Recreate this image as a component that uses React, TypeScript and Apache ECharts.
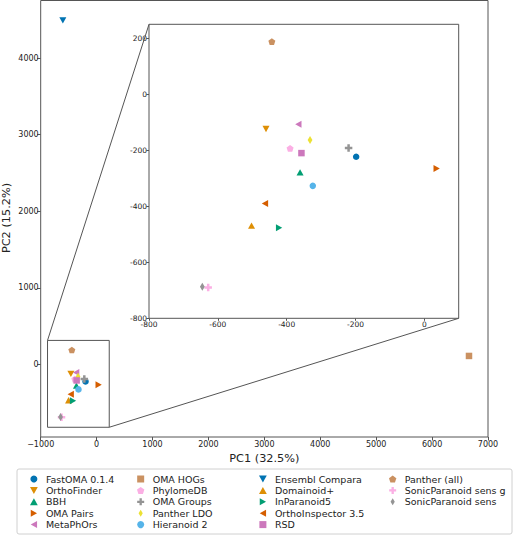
import React, { useEffect, useRef } from "react";
import * as echarts from "echarts";

const methods = [
  "FastOMA 0.1.4", "OrthoFinder", "BBH", "OMA Pairs", "MetaPhOrs",
  "OMA HOGs", "PhylomeDB", "OMA Groups", "Panther LDO", "Hieranoid 2",
  "Ensembl Compara", "Domainoid+", "InParanoid5", "OrthoInspector 3.5", "RSD",
  "Panther (all)", "SonicParanoid sens g", "SonicParanoid sens",
];
const pc1 = [
  -198, -460, -361, 36, -366,
  6660, -390, -220, -332, -324,
  -604, -502, -422, -463, -357,
  -443, -628, -645,
];
const pc2 = [
  -223, -124, -279, -265, -107,
  110, -193, -192, -163, -327,
  4495, -469, -477, -390, -210,
  188, -690, -687,
];
const colors = [
  "#0173b2", "#de8f05", "#029e73", "#d55e00", "#cc78bc",
  "#ca9161", "#fbafe4", "#949494", "#ece133", "#56b4e9",
  "#0173b2", "#de8f05", "#029e73", "#d55e00", "#cc78bc",
  "#ca9161", "#fbafe4", "#949494",
];
const markerKinds = [
  "circle", "down", "up", "right", "left",
  "square", "pentagon", "plus", "thindiamond", "circle",
  "down", "up", "right", "left", "square",
  "pentagon", "plus", "thindiamond",
];

const mainXTicks = [-1000, 0, 1000, 2000, 3000, 4000, 5000, 6000, 7000];
const mainYTicks = [0, 1000, 2000, 3000, 4000];
const insetXTicks = [-800, -600, -400, -200, 0];
const insetYTicks = [-800, -600, -400, -200, 0, 200];

// zoom indicator rectangle on the overview (data units)
const zoomBoxX = [-878, 226];
const zoomBoxY = [-822, 313];

const SYMBOLS: Record<string, { symbol: string; size: number | number[]; keep: boolean }> = {
  circle: { symbol: "circle", size: 6.5, keep: true },
  square: { symbol: "path://M0,0H1V1H0Z", size: 6.5, keep: true },
  down: { symbol: "path://M0,0L2,0L1,1.8Z", size: 7, keep: true },
  up: { symbol: "path://M1,0L2,1.8L0,1.8Z", size: 7, keep: true },
  right: { symbol: "path://M0,0L1.8,1L0,2Z", size: 7, keep: true },
  left: { symbol: "path://M1.8,0L0,1L1.8,2Z", size: 7, keep: true },
  pentagon: { symbol: "path://M1,0L1.951,0.691L1.588,1.809L0.412,1.809L0.049,0.691Z", size: 7, keep: true },
  plus: { symbol: "path://M1,0H2V1H3V2H2V3H1V2H0V1H1Z", size: 7.5, keep: true },
  thindiamond: { symbol: "path://M0.6,0L1.2,1L0.6,2L0,1Z", size: [4.8, 8], keep: false },
};

const FONT = "DejaVu Sans";
const SPINE = "#555";

function fmtMinus(v: number) {
  return v < 0 ? "\u2212" + Math.abs(v) : String(v);
}

export default function App() {
  const ref = useRef<HTMLDivElement>(null);
  useEffect(() => {
    if (!ref.current) return;
    const chart = echarts.init(ref.current, null, { renderer: "svg" });
    const series: any[] = [];
    methods.forEach((name, i) => {
      const s = SYMBOLS[markerKinds[i]];
      const base = {
        type: "scatter",
        name,
        symbol: s.symbol,
        symbolSize: s.size,
        symbolKeepAspect: s.keep,
        itemStyle: { color: colors[i], opacity: 1 },
        data: [[pc1[i], pc2[i]]],
        clip: true,
        emphasis: { disabled: true },
      };
      series.push({ ...base, xAxisIndex: 0, yAxisIndex: 0 });
      series.push({ ...base, xAxisIndex: 1, yAxisIndex: 1, z: 5 });
    });

    const legendLefts = [30, 137, 259, 389];
    const legends = legendLefts.map((left, c) => ({
      orient: "vertical",
      left,
      top: 474,
      itemWidth: 14,
      itemHeight: 7,
      itemGap: 1.4,
      padding: 0,
      symbolKeepAspect: true,
      textStyle: { fontFamily: FONT, fontSize: 9.5, color: "#222", lineHeight: 10 },
      data: methods.slice(c * 5, c * 5 + 5).map((n) => ({ name: n })),
    }));

    const tickLabel = { fontFamily: FONT, fontSize: 8, color: "#222" };
    const noLine = { show: false, onZero: false };
    const option: any = {
      animation: false,
      grid: [
        { left: 40.7, top: 0.5, width: 447.3, height: 436.5, show: true, borderColor: SPINE, borderWidth: 1, backgroundColor: "transparent", outerBoundsMode: "none", containLabel: false },
        { left: 149, top: 24.3, width: 309.7, height: 294, show: true, borderColor: SPINE, borderWidth: 1, backgroundColor: "#fff", z: 3, outerBoundsMode: "none", containLabel: false },
      ],
      xAxis: [
        {
          type: "value", gridIndex: 0, min: -1000, max: 7000, position: "bottom",
          splitLine: { show: false }, axisLine: noLine,
          axisTick: { show: true, length: 3.5, customValues: mainXTicks, lineStyle: { color: SPINE } },
          axisLabel: { customValues: mainXTicks, formatter: fmtMinus, margin: 3, ...tickLabel },
          name: "PC1 (32.5%)", nameLocation: "middle", nameGap: 15,
          nameTextStyle: { fontFamily: FONT, fontSize: 11.3, color: "#222" },
        },
        {
          type: "value", gridIndex: 1, min: -800, max: 100, position: "bottom",
          splitLine: { show: false }, axisLine: noLine,
          axisTick: { show: true, length: 2.5, customValues: insetXTicks, lineStyle: { color: SPINE } },
          axisLabel: { customValues: insetXTicks, formatter: (v: number) => String(v), margin: 2, fontFamily: FONT, fontSize: 7.5, color: "#222" },
        },
      ],
      yAxis: [
        {
          type: "value", gridIndex: 0, min: -949, max: 4754, position: "left",
          splitLine: { show: false }, axisLine: noLine,
          axisTick: { show: true, length: 3.5, customValues: mainYTicks, lineStyle: { color: SPINE } },
          axisLabel: { customValues: mainYTicks, formatter: fmtMinus, margin: 2, ...tickLabel },
        },
        {
          type: "value", gridIndex: 1, min: -800, max: 250, position: "left",
          splitLine: { show: false }, axisLine: noLine,
          axisTick: { show: true, length: 2.5, customValues: insetYTicks, lineStyle: { color: SPINE } },
          axisLabel: { customValues: insetYTicks, formatter: (v: number) => String(v), margin: 2, fontFamily: FONT, fontSize: 7.5, color: "#222" },
        },
      ],
      legend: legends,
      series,
    };
    chart.setOption(option);

    const p1 = chart.convertToPixel({ gridIndex: 0 }, [zoomBoxX[0], zoomBoxY[1]]) as number[];
    const p2 = chart.convertToPixel({ gridIndex: 0 }, [zoomBoxX[1], zoomBoxY[0]]) as number[];
    const i1 = chart.convertToPixel({ gridIndex: 1 }, [-800, 250]) as number[];
    const i2 = chart.convertToPixel({ gridIndex: 1 }, [100, -800]) as number[];
    const lineStyle = { stroke: SPINE, lineWidth: 1, fill: null };
    chart.setOption({
      graphic: [
        { type: "rect", shape: { x: p1[0], y: p1[1], width: p2[0] - p1[0], height: p2[1] - p1[1] }, style: lineStyle, z: 10 },
        { type: "line", shape: { x1: p1[0], y1: p1[1], x2: i1[0], y2: i1[1] }, style: lineStyle, z: 10 },
        { type: "line", shape: { x1: p2[0], y1: p2[1], x2: i2[0], y2: i2[1] }, style: lineStyle, z: 10 },
        { type: "rect", shape: { x: 17, y: 469, width: 495, height: 65, r: 2 }, style: { stroke: "#d0d0d0", lineWidth: 1, fill: null }, z: 0 },
        {
          type: "text", x: 6, y: 218, rotation: Math.PI / 2,
          style: { text: "PC2 (15.2%)", fontFamily: FONT, fontSize: 11.3, fill: "#222", align: "center", verticalAlign: "middle" },
          z: 10,
        },
      ],
    });
    return () => chart.dispose();
  }, []);
  return <div ref={ref} style={{ width: 520, height: 536, position: "absolute", left: 0, top: 0 }} />;
}
